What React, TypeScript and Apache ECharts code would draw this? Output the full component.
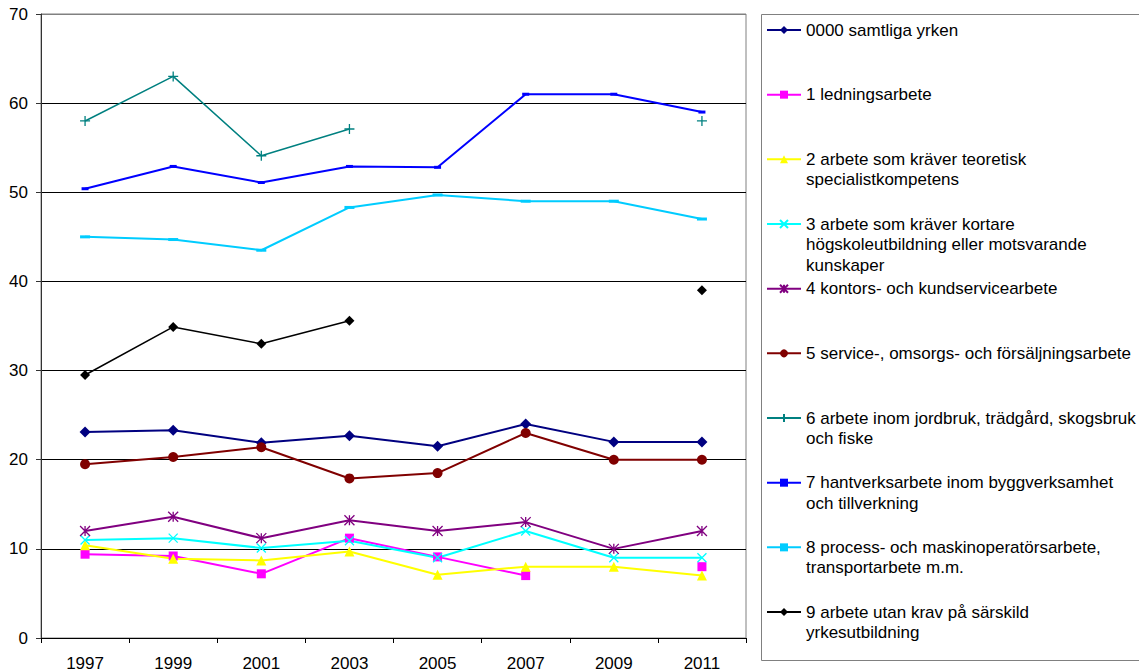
import React, { useEffect, useRef } from "react";
import * as echarts from "echarts";

const years = ["1997", "1999", "2001", "2003", "2005", "2007", "2009", "2011"];

const seriesNames = [
  "0000 samtliga yrken",
  "1 ledningsarbete",
  "2 arbete som kräver teoretisk specialistkompetens",
  "3 arbete som kräver kortare högskoleutbildning eller motsvarande kunskaper",
  "4 kontors- och kundservicearbete",
  "5 service-, omsorgs- och försäljningsarbete",
  "6 arbete inom jordbruk, trädgård, skogsbruk och fiske",
  "7 hantverksarbete inom byggverksamhet och tillverkning",
  "8 process- och maskinoperatörsarbete, transportarbete m.m.",
  "9 arbete utan krav på särskild yrkesutbildning",
];

const legendLines = [
  ["0000 samtliga yrken"],
  ["1 ledningsarbete"],
  ["2 arbete som kräver teoretisk", "specialistkompetens"],
  ["3 arbete som kräver kortare", "högskoleutbildning eller motsvarande", "kunskaper"],
  ["4 kontors- och kundservicearbete"],
  ["5 service-, omsorgs- och försäljningsarbete"],
  ["6 arbete inom jordbruk, trädgård, skogsbruk", "och fiske"],
  ["7 hantverksarbete inom byggverksamhet", "och tillverkning"],
  ["8 process- och maskinoperatörsarbete,", "transportarbete m.m."],
  ["9 arbete utan krav på särskild", "yrkesutbildning"],
];

const s0 = [23.1, 23.3, 21.9, 22.7, 21.5, 24.0, 22.0, 22.0];
const s1 = [9.4, 9.2, 7.2, 11.2, 9.1, 7.0, null, 8.0];
const s2 = [10.4, 8.9, 8.7, 9.7, 7.1, 8.0, 8.0, 7.0];
const s3 = [11.0, 11.2, 10.1, 10.9, 9.0, 12.0, 9.0, 9.0];
const s4 = [12.0, 13.6, 11.2, 13.2, 12.0, 13.0, 10.0, 12.0];
const s5 = [19.5, 20.3, 21.4, 17.9, 18.5, 23.0, 20.0, 20.0];
const s6 = [58.0, 63.0, 54.1, 57.1, null, null, null, 58.0];
const s7 = [50.4, 52.9, 51.1, 52.9, 52.8, 61.0, 61.0, 59.0];
const s8 = [45.0, 44.7, 43.5, 48.3, 49.7, 49.0, 49.0, 47.0];
const s9 = [29.5, 34.9, 33.0, 35.6, null, null, null, 39.0];

const allData = [s0, s1, s2, s3, s4, s5, s6, s7, s8, s9];

const colors = [
  "#000080", "#FF00FF", "#FFFF00", "#00FFFF", "#800080",
  "#800000", "#008080", "#0000FF", "#00CCFF", "#000000",
];

const X_PATH = "path://M0,0L10,10M10,0L0,10";
const AST_PATH = "path://M5,0L5,10M0,0L10,10M10,0L0,10";
const PLUS_PATH = "path://M5,0L5,10M0,5L10,5";
const DASH_PATH = "path://M0,0H9V3H0Z";

const symbols: any[] = [
  "diamond", "rect", "triangle", X_PATH, AST_PATH,
  "circle", PLUS_PATH, DASH_PATH, DASH_PATH, "diamond",
];
const symbolSizes: any[] = [11, 9, 10, 9, 10, 10, 10, [7, 3], [10, 3], 10];
const lineWidths = [2, 2, 2, 2, 2, 2, 1.5, 2, 2, 1.5];

const FONT = "'Liberation Sans', Arial, sans-serif";
const LINE_H = 20.5;

export default function App() {
  const ref = useRef<HTMLDivElement>(null);
  useEffect(() => {
    document.body.style.margin = "0";
    const chart = echarts.init(ref.current!, null, { renderer: "svg" });

    const series = allData.map((d, i) => {
      const strokeSym = i === 3 || i === 4 || i === 6;
      return {
        name: seriesNames[i],
        type: "line",
        data: d,
        color: colors[i],
        symbol: symbols[i],
        symbolSize: symbolSizes[i],
        showSymbol: true,
        showAllSymbol: true,
        connectNulls: false,
        lineStyle: { color: colors[i], width: lineWidths[i] },
        itemStyle: {
          color: colors[i],
          borderColor: colors[i],
          borderWidth: strokeSym ? 1.3 : 0,
        },
        emphasis: { disabled: true },
      };
    });

    const legends = seriesNames.map((name, i) => {
      const lines = legendLines[i];
      const blanks = lines.length - 1;
      const text = Array(blanks).fill(" ").concat(lines).join("\n");
      const total = blanks + lines.length;
      const iconY = 30 + 64.67 * i;
      return {
        show: true,
        orient: "vertical",
        left: 766,
        top: iconY - (total * LINE_H) / 2,
        padding: 0,
        itemWidth: 34,
        itemHeight: 10,
        itemGap: 0,
        data: [name],
        formatter: () => text,
        selectedMode: false,
        textStyle: {
          fontSize: 17,
          fontFamily: FONT,
          color: "#000",
          lineHeight: LINE_H,
        },
      };
    });

    const splitColors = ["#000", "#000", "#000", "#000", "#000", "#000", "#000", "#808080"];

    chart.setOption({
      animation: false,
      backgroundColor: "#fff",
      textStyle: { fontFamily: FONT },
      grid: {
        left: 41,
        top: 14,
        right: 393,
        bottom: 33,
        show: true,
        borderColor: "#808080",
        borderWidth: 1,
        backgroundColor: "transparent",
      },
      legend: legends,
      xAxis: {
        type: "category",
        data: years,
        boundaryGap: true,
        axisLine: { show: true, lineStyle: { color: "#000", width: 1 } },
        axisTick: { show: true, length: 5, lineStyle: { color: "#000" }, alignWithLabel: false },
        axisLabel: { color: "#000", fontSize: 17, fontFamily: FONT, margin: 17 },
        splitLine: { show: false },
      },
      yAxis: {
        type: "value",
        min: 0,
        max: 70,
        interval: 10,
        axisLine: { show: true, lineStyle: { color: "#333", width: 1 } },
        axisTick: { show: true, length: 5, lineStyle: { color: "#333" } },
        axisLabel: { color: "#000", fontSize: 17, fontFamily: FONT, margin: 13 },
        splitLine: { show: true, lineStyle: { color: splitColors, width: 1 } },
      },
      graphic: [
        {
          type: "rect",
          shape: { x: 761.5, y: 14.5, width: 420, height: 646 },
          style: { fill: "none", stroke: "#808080", lineWidth: 1 },
          silent: true,
          z: -1,
        },
      ],
      series,
    });

    return () => chart.dispose();
  }, []);
  return <div ref={ref} style={{ width: 1139, height: 672 }} />;
}
